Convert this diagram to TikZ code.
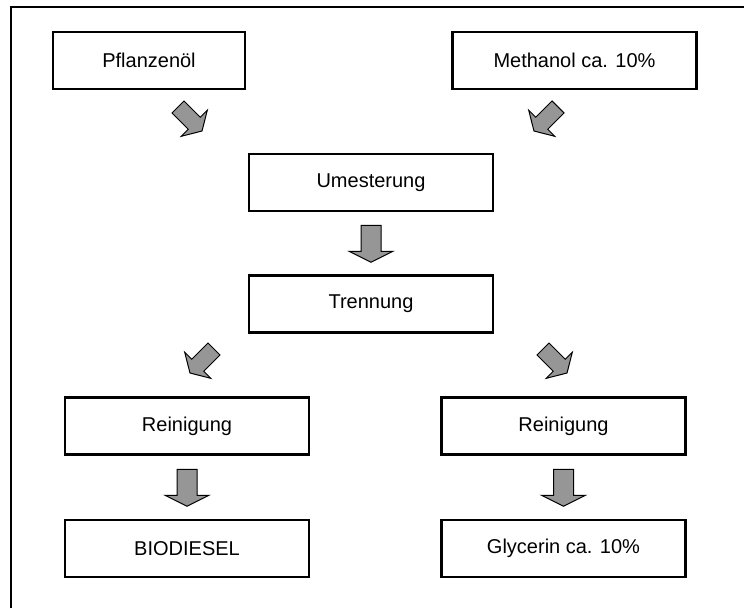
\documentclass[tikz,border=0pt]{standalone}
\usepackage{fontspec}
\setmainfont{Liberation Sans}
\usetikzlibrary{calc}
\definecolor{arrowgray}{RGB}{150,150,150}
\begin{document}
\begin{tikzpicture}[x=1pt,y=-1pt,
  stepbox/.style={draw=black, line width=2.4pt, inner sep=0pt,
    minimum height=57pt, font=\fontsize{20}{24}\selectfont},
  narrowbox/.style={stepbox, minimum width=192pt},
  widebox/.style={stepbox, minimum width=244pt},
  blockarrow/.style={draw=black, line width=1pt, fill=arrowgray, line join=miter},
  downarrow/.pic={
    \path[blockarrow] (-10,-18) -- (10,-18) -- (10,8) -- (22,8)
      -- (0,19) -- (-22,8) -- (-10,8) -- cycle;},
  slantarrow/.pic={
    \path[blockarrow] (-8.5,-17) -- (8.5,-17) -- (8.5,6) -- (18.5,6)
      -- (0,17) -- (-18.5,6) -- (-8.5,6) -- cycle;}
]
\useasboundingbox (0,0) rectangle (744,608);

% outer frame (top and left edges)
\draw[line width=2.4pt] (11,608) -- (11,7) -- (744,7);

% process steps
\node[narrowbox] (oil)   at (149,60.5)  {Pflanzenöl};
\node[widebox]   (meth)  at (574.5,60.5) {Methanol ca. 10\%};
\node[widebox]   (umest) at (371,182.5) {Umesterung};
\node[widebox]   (trenn) at (371,304)   {Trennung};
\node[widebox]   (reinL) at (187,426)   {Reinigung};
\node[widebox]   (reinR) at (563.5,426) {Reinigung};
\node[widebox]   (bio)   at (187,548.5) {BIODIESEL};
\node[widebox]   (gly)   at (563.5,548.5) {Glycerin ca. 10\%};

% block arrows between the steps
\pic[rotate=45]  at (190,119) {slantarrow};
\pic[rotate=-45] at (546,119) {slantarrow};
\pic at ($(umest.south)!0.5!(trenn.north)$) {downarrow};
\pic[rotate=-45] at (202,361) {slantarrow};
\pic[rotate=45]  at (555,361) {slantarrow};
\pic at ($(reinL.south)!0.5!(bio.north)$) {downarrow};
\pic at ($(reinR.south)!0.5!(gly.north)$) {downarrow};
\end{tikzpicture}
\end{document}
